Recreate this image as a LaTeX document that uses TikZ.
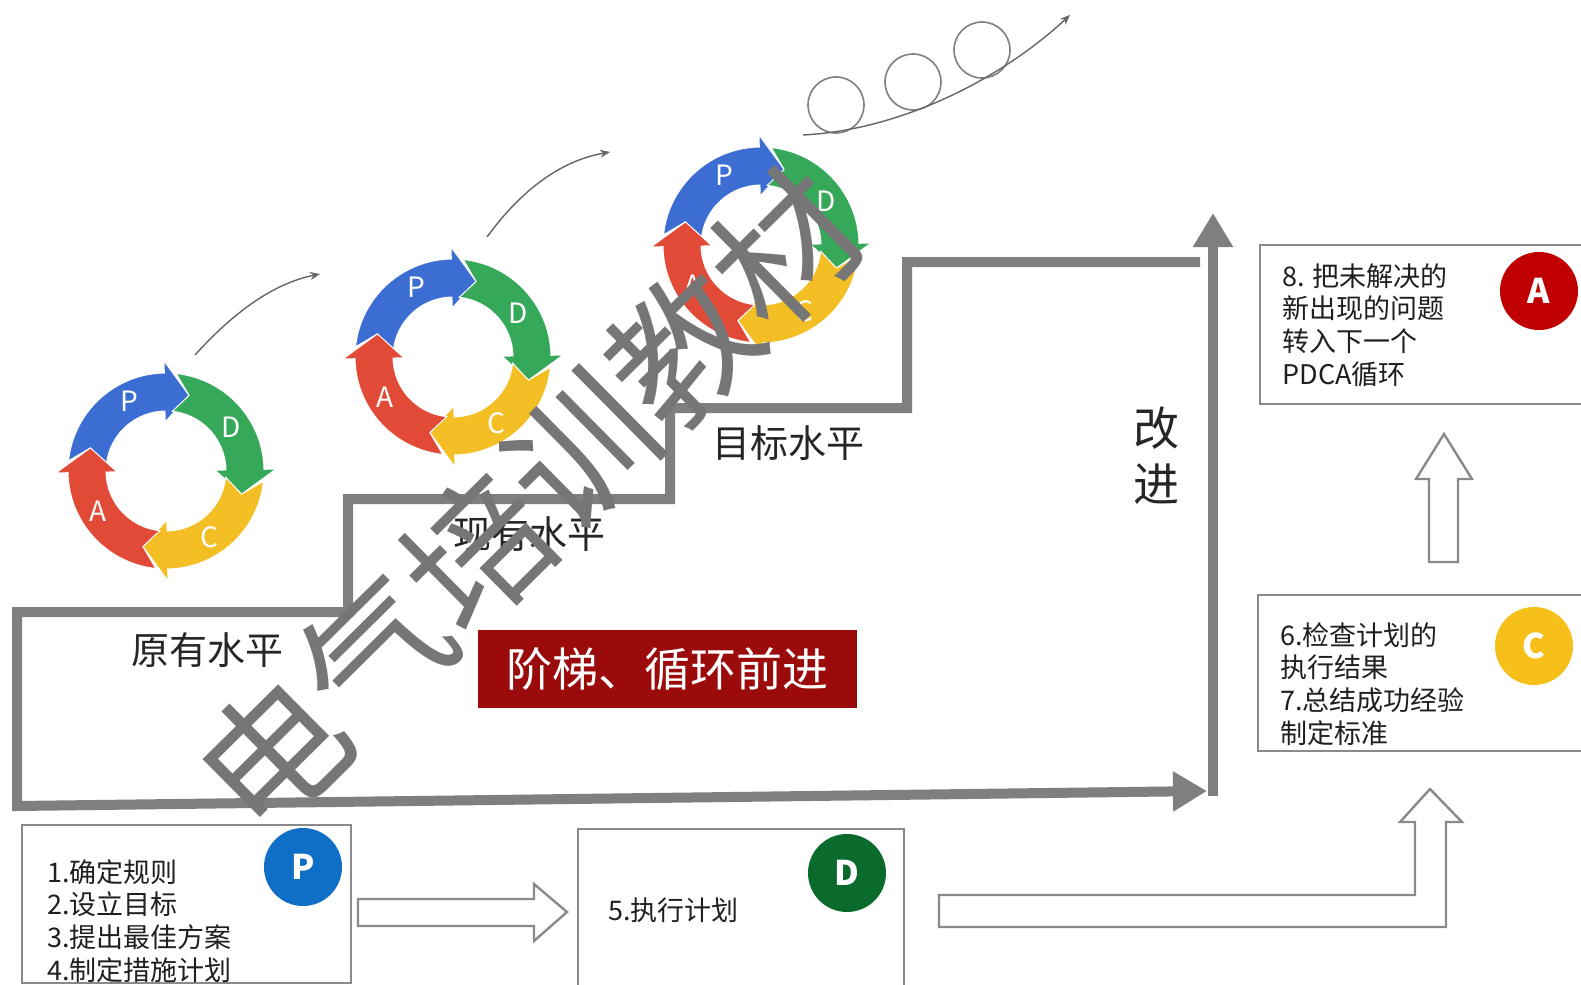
\documentclass[tikz,border=0pt]{standalone}
\usepackage{fontspec}
\setmainfont{Noto Sans CJK SC}
\usetikzlibrary{arrows.meta}

\definecolor{stairgray}{HTML}{7F7F7F}
\definecolor{boxgray}{HTML}{8A8A8A}
\definecolor{markgray}{HTML}{767676}
\definecolor{bannerred}{HTML}{9C0B0B}
\definecolor{cycP}{HTML}{3B6DD3}
\definecolor{cycD}{HTML}{36A85A}
\definecolor{cycC}{HTML}{F4BE25}
\definecolor{cycA}{HTML}{E24A38}
\definecolor{badgeP}{HTML}{0F6FC6}
\definecolor{badgeD}{HTML}{0B6B2C}
\definecolor{badgeC}{HTML}{F6BF1A}
\definecolor{badgeA}{HTML}{C00000}

\begin{document}
\begin{tikzpicture}[
    x=0.5pt, y=-0.5pt,
    stair/.style={draw=stairgray, line width=5pt, line join=miter},
    stairtip/.style={-{Triangle[length=17pt,width=19pt]}},
    flow/.style={draw=black!60, line width=0.7pt, -{Stealth[length=5pt,width=4pt]}},
    bead/.style={circle, draw=black!50, line width=0.8pt, minimum size=28pt, inner sep=0pt},
    seg/.style={draw=white, line width=0.5pt},
    cycletext/.style={text=white, font=\fontsize{14}{14}\selectfont},
    stagelabel/.style={text=black!85, font=\fontsize{19}{19}\selectfont},
    banner/.style={fill=bannerred, text=white, font=\fontsize{23}{23}\selectfont,
        minimum width=189.5pt, minimum height=39pt, inner sep=0pt},
    infobox/.style={draw=boxgray, line width=1.3pt},
    boxtext/.style={anchor=west, align=left, inner sep=0pt, text=black!88,
        font=\fontsize{13.5}{16.4}\selectfont},
    badge/.style={circle, minimum size=39pt, inner sep=0pt, text=white,
        font=\fontsize{17}{17}\selectfont\bfseries},
    hollow/.style={draw=boxgray, line width=1.2pt, fill=white, line join=miter},
    watermark/.style={text=markgray, font=\fontsize{72}{72}\selectfont}
]
    \useasboundingbox (0,0) rectangle (1581,985);
    \fill[white] (0,0) rectangle (1581,985);

    % PDCA wheels climbing the stairs
    \foreach \cx/\cy/\k in {166/471/1, 453/357/2, 761/245/3} {
        \begin{scope}[shift={(\cx,\cy)}, yscale=-1]
            \foreach \a/\col/\lbl/\la in {163/cycP/P/118, 73/cycD/D/34, -17/cycC/C/-57, -107/cycA/A/211} {
                \pgfmathsetmacro{\notch}{\a+11}
                \pgfmathsetmacro{\base}{\a-72}
                \pgfmathsetmacro{\tip}{\a-90}
                \filldraw[seg, fill=\col] (\notch:98) arc[start angle=\notch, end angle=\base, radius=98]
                    -- (\base:110) -- (\tip:79) -- (\base:49) -- (\base:60)
                    arc[start angle=\base, end angle=\notch, radius=60] -- (\a:79) -- cycle;
                \node[cycletext] (\lbl\k) at (\la:79) {\lbl};
            }
        \end{scope}
    }

    % thin arrows between the wheels
    \draw[flow] (195,355) .. controls (240,305) and (280,282) .. (320,274);
    \draw[flow] (487,237) .. controls (525,185) and (565,160) .. (610,152);

    % rolling balls
    \node[bead] (ball1) at (836,105) {};
    \node[bead] (ball2) at (913,82) {};
    \node[bead] (ball3) at (982,50) {};
    \draw[flow] (803,135) .. controls (900,130) and (1000,80) .. (1070,15);

    % the staircase
    \draw[stair, stairtip] (1200,262) -- (907,262) -- (907,408) -- (670,408) -- (670,499)
        -- (348,499) -- (348,612) -- (17,612) -- (17,806) -- (1207,791);
    \draw[stair, stairtip] (1213,796) -- (1213,213);

    \node[stagelabel] (oldlevel) at (207,650) {原有水平};
    \node[stagelabel] (nowlevel) at (529,534) {现有水平};
    \node[stagelabel] (goallevel) at (788,443) {目标水平};
    \node[stagelabel, align=center, font=\fontsize{23}{28}\selectfont] (improve) at (1156,456) {改\\进};
    \node[banner] (motto) at (667,669) {阶梯、循环前进};

    % P box
    \draw[infobox] (22,825) rectangle (351,983);
    \node[boxtext] (plantext) at (47,921) {1.确定规则\\2.设立目标\\3.提出最佳方案\\4.制定措施计划};
    \node[badge, fill=badgeP] (pbadge) at (303,867) {P};

    % D box
    \draw[infobox] (578,829) rectangle (904,990);
    \node[boxtext] (dotext) at (608,910) {5.执行计划};
    \node[badge, fill=badgeD] (dbadge) at (847,873) {D};

    % C box
    \draw[infobox] (1600,595) -- (1258,595) -- (1258,751) -- (1600,751);
    \node[boxtext] (checktext) at (1280,684) {6.检查计划的\\执行结果\\7.总结成功经验\\制定标准};
    \node[badge, fill=badgeC] (cbadge) at (1534,646) {C};

    % A box
    \draw[infobox] (1600,245) -- (1260,245) -- (1260,404) -- (1600,404);
    \node[boxtext] (acttext) at (1282,325) {8. 把未解决的\\新出现的问题\\转入下一个\\PDCA循环};
    \node[badge, fill=badgeA] (abadge) at (1539,291) {A};

    % hollow block arrows
    \draw[hollow] (358,899) -- (534,899) -- (534,884) -- (567,912) -- (534,941) -- (534,926) -- (358,926) -- cycle;
    \draw[hollow] (939,895) -- (1415,895) -- (1415,822) -- (1400,822) -- (1430,789) -- (1462,822)
        -- (1446,822) -- (1446,927) -- (939,927) -- cycle;
    \draw[hollow] (1429,562) -- (1429,479) -- (1416,479) -- (1444,434) -- (1472,479) -- (1458,479)
        -- (1458,562) -- cycle;

    \node[watermark, rotate=44.7] (mark) at (529,501) {电气培训教材};
\end{tikzpicture}
\end{document}
